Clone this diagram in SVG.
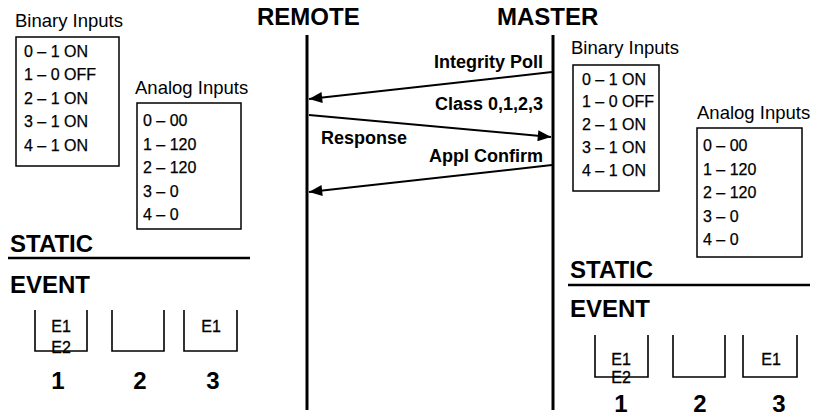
<svg xmlns="http://www.w3.org/2000/svg" width="814" height="418" viewBox="0 0 814 418">
  <style>
    text { font-family: "Liberation Sans", Arial, sans-serif; fill: #000; }
    .lbl { font-size: 18.5px; }
    .item { font-size: 16px; stroke: #000; stroke-width: 0.25; }
    .head { font-size: 24px; font-weight: bold; }
    .msg { font-size: 18px; font-weight: bold; }
    .ev { font-size: 16px; stroke: #000; stroke-width: 0.3; }
    .num { font-size: 24px; font-weight: bold; text-anchor: middle; }
    .box { fill: none; stroke: #000; stroke-width: 1.5; }
    .bin { fill: none; stroke: #000; stroke-width: 1.6; }
    .rule { stroke: #000; stroke-width: 2.5; }
    .life { stroke: #000; stroke-width: 3; }
    .arrow { stroke: #000; stroke-width: 2; fill: none; marker-end: url(#head); }
  </style>
  <defs>
    <marker id="head" viewBox="0 0 12 10" markerUnits="userSpaceOnUse" markerWidth="14" markerHeight="11" refX="12" refY="5" orient="auto">
      <path d="M0,0 L12,5 L0,10 z" fill="#000"/>
    </marker>
  </defs>
  <rect width="814" height="418" fill="#fff"/>

  <!-- station titles and lifelines -->
  <g id="remote">
    <text class="head" x="257" y="25">REMOTE</text>
    <line class="life" x1="307" y1="35" x2="307" y2="410"/>
  </g>
  <g id="master">
    <text class="head" x="497" y="25">MASTER</text>
    <line class="life" x1="553" y1="35" x2="553" y2="410"/>
  </g>

  <!-- remote database -->
  <g id="remote-binary">
    <text class="lbl" x="15" y="27">Binary Inputs</text>
    <rect class="box" x="16" y="37" width="103" height="129"/>
    <text class="item" x="24" y="57">0 – 1 ON</text>
    <text class="item" x="24" y="80">1 – 0 OFF</text>
    <text class="item" x="24" y="104">2 – 1 ON</text>
    <text class="item" x="24" y="127">3 – 1 ON</text>
    <text class="item" x="24" y="151">4 – 1 ON</text>
  </g>
  <g id="remote-analog">
    <text class="lbl" x="135" y="94">Analog Inputs</text>
    <rect class="box" x="137" y="103" width="104" height="126"/>
    <text class="item" x="143" y="126">0 – 00</text>
    <text class="item" x="143" y="150">1 – 120</text>
    <text class="item" x="143" y="173">2 – 120</text>
    <text class="item" x="143" y="197">3 – 0</text>
    <text class="item" x="143" y="220">4 – 0</text>
  </g>
  <g id="remote-static">
    <text class="head" x="10" y="252">STATIC</text>
    <line class="rule" x1="8" y1="258" x2="250" y2="258"/>
  </g>
  <g id="remote-event">
    <text class="head" x="10" y="293">EVENT</text>
  </g>
  <g id="remote-class1">
    <text class="ev" x="61" y="332" text-anchor="middle">E1</text>
    <text class="ev" x="61" y="353" text-anchor="middle">E2</text>
    <path class="bin" d="M35,310 V351 H87 V310"/>
    <text class="num" x="58" y="389">1</text>
  </g>
  <g id="remote-class2">
    <path class="bin" d="M112,310 V351 H164 V310"/>
    <text class="num" x="140" y="389">2</text>
  </g>
  <g id="remote-class3">
    <text class="ev" x="211" y="332" text-anchor="middle">E1</text>
    <path class="bin" d="M184,310 V351 H237 V310"/>
    <text class="num" x="213" y="389">3</text>
  </g>

  <!-- master database -->
  <g id="master-binary">
    <text class="lbl" x="571" y="54">Binary Inputs</text>
    <rect class="box" x="573" y="65" width="86" height="126"/>
    <text class="item" x="582" y="85">0 – 1 ON</text>
    <text class="item" x="582" y="107">1 – 0 OFF</text>
    <text class="item" x="582" y="130">2 – 1 ON</text>
    <text class="item" x="582" y="153">3 – 1 ON</text>
    <text class="item" x="582" y="176">4 – 1 ON</text>
  </g>
  <g id="master-analog">
    <text class="lbl" x="697" y="119">Analog Inputs</text>
    <rect class="box" x="697" y="128" width="105" height="129"/>
    <text class="item" x="703" y="151">0 – 00</text>
    <text class="item" x="703" y="175">1 – 120</text>
    <text class="item" x="703" y="198">2 – 120</text>
    <text class="item" x="703" y="222">3 – 0</text>
    <text class="item" x="703" y="245">4 – 0</text>
  </g>
  <g id="master-static">
    <text class="head" x="570" y="278">STATIC</text>
    <line class="rule" x1="568" y1="285" x2="810" y2="285"/>
  </g>
  <g id="master-event">
    <text class="head" x="570" y="317">EVENT</text>
  </g>
  <g id="master-class1">
    <text class="ev" x="621" y="365" text-anchor="middle">E1</text>
    <text class="ev" x="621" y="383" text-anchor="middle">E2</text>
    <path class="bin" d="M595,335 V377 H648 V335"/>
    <text class="num" x="621" y="412">1</text>
  </g>
  <g id="master-class2">
    <path class="bin" d="M673,335 V377 H725 V335"/>
    <text class="num" x="700" y="412">2</text>
  </g>
  <g id="master-class3">
    <text class="ev" x="771" y="365" text-anchor="middle">E1</text>
    <path class="bin" d="M743,335 V377 H797 V335"/>
    <text class="num" x="779" y="412">3</text>
  </g>

  <!-- message exchange -->
  <g id="connectors">
    <line class="arrow" x1="552" y1="72" x2="309" y2="99"/>
    <line class="arrow" x1="309" y1="115" x2="551" y2="137"/>
    <line class="arrow" x1="552" y1="165" x2="309" y2="192"/>
    <text class="msg" x="543" y="68" text-anchor="end">Integrity Poll</text>
    <text class="msg" x="543" y="110" text-anchor="end">Class 0,1,2,3</text>
    <text class="msg" x="321" y="144">Response</text>
    <text class="msg" x="543" y="162" text-anchor="end">Appl Confirm</text>
  </g>
</svg>
